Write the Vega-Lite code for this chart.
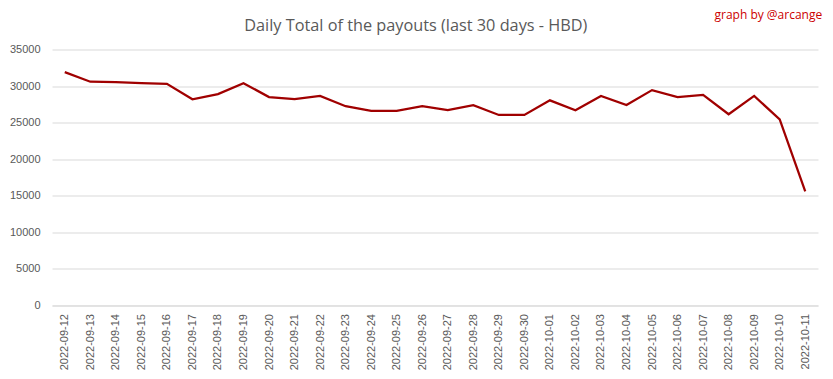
{
  "$schema": "https://vega.github.io/schema/vega-lite/v6.json",
  "width": 766,
  "height": 256,
  "autosize": {"type": "none"},
  "padding": {"left": 52, "top": 49.5, "right": 15, "bottom": 73.5},
  "background": "white",
  "title": {
    "text": "Daily Total of the payouts (last 30 days - HBD)",
    "anchor": "middle",
    "frame": "bounds",
    "font": "Open Sans",
    "fontSize": 16.3,
    "fontWeight": "normal",
    "color": "#595959",
    "baseline": "alphabetic",
    "offset": -39
  },
  "config": {
    "view": {"stroke": null},
    "font": "Liberation Sans"
  },
  "encoding": {
    "x": {
      "field": "date",
      "type": "ordinal",
      "scale": {"type": "point", "padding": 0.5},
      "axis": {
        "title": null,
        "labelAngle": -90,
        "labelFontSize": 11,
        "labelColor": "#595959",
        "labelPadding": 8,
        "labelOverlap": false,
        "ticks": false,
        "domainColor": "#D9D9D9",
        "domainWidth": 1,
        "grid": false
      }
    },
    "y": {
      "field": "value",
      "type": "quantitative",
      "scale": {"domain": [0, 35000], "nice": false},
      "axis": {
        "title": null,
        "values": [0, 5000, 10000, 15000, 20000, 25000, 30000, 35000],
        "format": "d",
        "labelFontSize": 11,
        "labelColor": "#595959",
        "labelPadding": 12,
        "labelOverlap": false,
        "ticks": false,
        "domain": false,
        "gridColor": "#D9D9D9",
        "gridWidth": 1
      }
    }
  },
  "layer": [
    {
      "data": {
        "values": [
          {"date": "2022-09-12", "value": 31900},
          {"date": "2022-09-13", "value": 30600},
          {"date": "2022-09-14", "value": 30550},
          {"date": "2022-09-15", "value": 30400},
          {"date": "2022-09-16", "value": 30300},
          {"date": "2022-09-17", "value": 28200},
          {"date": "2022-09-18", "value": 28900},
          {"date": "2022-09-19", "value": 30400},
          {"date": "2022-09-20", "value": 28500},
          {"date": "2022-09-21", "value": 28200},
          {"date": "2022-09-22", "value": 28650},
          {"date": "2022-09-23", "value": 27250},
          {"date": "2022-09-24", "value": 26600},
          {"date": "2022-09-25", "value": 26600},
          {"date": "2022-09-26", "value": 27250},
          {"date": "2022-09-27", "value": 26700},
          {"date": "2022-09-28", "value": 27400},
          {"date": "2022-09-29", "value": 26050},
          {"date": "2022-09-30", "value": 26050},
          {"date": "2022-10-01", "value": 28050},
          {"date": "2022-10-02", "value": 26700},
          {"date": "2022-10-03", "value": 28650},
          {"date": "2022-10-04", "value": 27400},
          {"date": "2022-10-05", "value": 29450},
          {"date": "2022-10-06", "value": 28500},
          {"date": "2022-10-07", "value": 28800},
          {"date": "2022-10-08", "value": 26150},
          {"date": "2022-10-09", "value": 28650},
          {"date": "2022-10-10", "value": 25450},
          {"date": "2022-10-11", "value": 15600}
        ]
      },
      "mark": {"type": "line", "color": "#A00000", "strokeWidth": 2.25}
    },
    {
      "data": {"values": [{"date": "2022-10-11", "value": 35000, "label": "graph by @arcange"}]},
      "mark": {"type": "text", "align": "right", "baseline": "alphabetic", "dx": 17, "dy": -31, "fontSize": 12, "font": "Open Sans", "color": "#CC0000", "clip": false},
      "encoding": {
        "text": {"field": "label"}
      }
    }
  ]
}
